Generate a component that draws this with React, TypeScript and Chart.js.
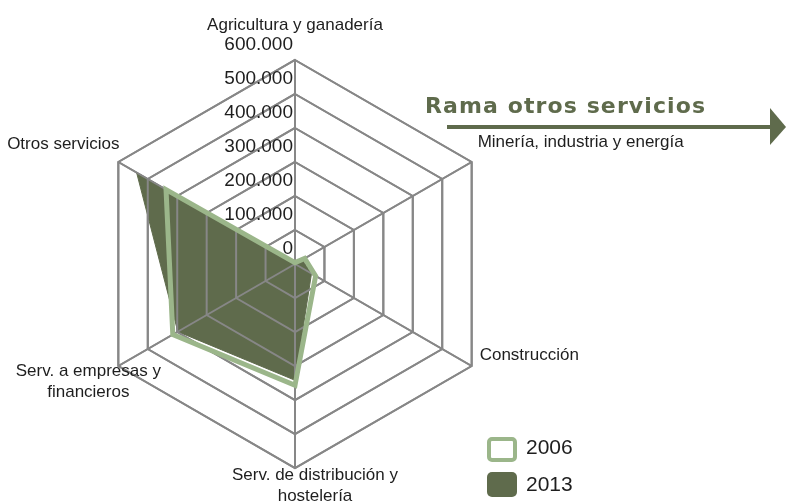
import React, { useEffect, useRef } from "react";
import { Chart, registerables } from "chart.js";

Chart.register(...registerables);

const categories: (string | string[])[] = [
  "Agricultura y ganadería",
  "Minería, industria y energía",
  "Construcción",
  ["Serv. de distribución y", "hostelería"],
  ["Serv. a empresas y", "financieros"],
  "Otros servicios",
];
const seriesNames = ["2006", "2013"];
const values2006 = [4000, 33000, 70000, 357000, 415000, 438000];
const values2013 = [3000, 25000, 56000, 342000, 398000, 538000];
const tickValues = [0, 100000, 200000, 300000, 400000, 500000, 600000];
const tickLabels = ["0", "100.000", "200.000", "300.000", "400.000", "500.000", "600.000"];
const titleText = "Rama otros servicios";

const LIGHT = "#9bb68a";
const DARK = "#5f6b4c";
const GRID = "#878787";
const TEXT = "#1e1e1e";

// label placement relative to the outer vertex of each axis
const labelPlacement = [
  { dx: 0, dy: -35, align: "center" },
  { dx: 6, dy: -20, align: "left" },
  { dx: 8, dy: -11, align: "left" },
  { dx: 20, dy: 7, align: "center" },
  { dx: -30, dy: 5, align: "center" },
  { dx: -55, dy: -18, align: "center" },
];

const overlayPlugin = {
  id: "overlay",
  afterDatasetDraw(chart: any, args: any) {
    // grid over the filled 2013 area, below the 2006 line
    if (args.index === 1) {
      chart.scales.r.drawGrid();
    }
  },
  afterDraw(chart: any) {
    const scale = chart.scales.r;
    const ctx = chart.ctx;
    ctx.save();
    ctx.font = "19px 'Liberation Sans', Arial, sans-serif";
    ctx.fillStyle = TEXT;
    ctx.textAlign = "right";
    ctx.textBaseline = "middle";
    tickValues.forEach((v, i) => {
      const d = scale.getDistanceFromCenterForValue(v);
      ctx.fillText(tickLabels[i], scale.xCenter - 2, scale.yCenter - d - 15);
    });
    ctx.font = "17px 'Liberation Sans', Arial, sans-serif";
    categories.forEach((lab, i) => {
      const p = scale.getPointPosition(i, scale.drawingArea);
      const pl = labelPlacement[i];
      const lines = Array.isArray(lab) ? lab : [lab];
      ctx.textAlign = pl.align;
      lines.forEach((ln, j) => {
        ctx.fillText(ln, p.x + pl.dx, p.y + pl.dy + j * 21);
      });
    });
    ctx.restore();
  },
};

export default function App() {
  const ref = useRef<HTMLCanvasElement>(null);
  useEffect(() => {
    document.body.style.margin = "0";
    document.documentElement.style.overflow = "hidden";
    document.body.style.overflow = "hidden";
    if (!ref.current) return;
    const chart = new Chart(ref.current, {
      type: "radar",
      data: {
        labels: categories as any,
        datasets: [
          {
            label: seriesNames[0],
            data: values2006,
            fill: false,
            borderColor: LIGHT,
            borderWidth: 5,
            pointRadius: 0,
            pointHoverRadius: 0,
          },
          {
            label: seriesNames[1],
            data: values2013,
            fill: true,
            backgroundColor: DARK,
            borderColor: DARK,
            borderWidth: 1,
            pointRadius: 0,
            pointHoverRadius: 0,
          },
        ],
      },
      options: {
        responsive: false,
        animation: false,
        layout: { padding: { left: 91, top: 60, right: 287, bottom: 35 } },
        plugins: {
          legend: { display: false },
          tooltip: { enabled: false },
        },
        scales: {
          r: {
            min: 0,
            max: 600000,
            ticks: { display: false, stepSize: 100000 },
            pointLabels: { display: false },
            grid: { color: GRID, lineWidth: 2 },
            angleLines: { color: GRID, lineWidth: 2 },
          },
        },
      },
      plugins: [overlayPlugin],
    });
    return () => chart.destroy();
  }, []);

  const legendText: React.CSSProperties = {
    position: "absolute",
    left: 526,
    fontFamily: "'Liberation Sans', Arial, sans-serif",
    fontSize: 21,
    color: TEXT,
    lineHeight: "25px",
  };

  return (
    <div style={{ position: "relative", width: 786, height: 503, overflow: "hidden" }}>
      <canvas ref={ref} width={786} height={503} style={{ display: "block" }} />
      <div
        style={{
          position: "absolute",
          left: 425,
          top: 91,
          fontFamily: "'DejaVu Sans', sans-serif",
          fontWeight: "bold",
          fontSize: 22,
          letterSpacing: 1.1,
          color: DARK,
          whiteSpace: "nowrap",
          lineHeight: "30px",
        }}
      >
        {titleText}
      </div>
      <svg
        width={340}
        height={40}
        style={{ position: "absolute", left: 446, top: 107 }}
      >
        <line x1={1} y1={20} x2={326} y2={20} stroke={DARK} strokeWidth={4} />
        <polygon points="324,1 340,20 324,38" fill={DARK} />
      </svg>
      <div
        style={{
          position: "absolute",
          left: 487,
          top: 437,
          width: 22,
          height: 17,
          border: `4px solid ${LIGHT}`,
          borderRadius: 5,
          background: "#fff",
        }}
      />
      <div style={{ ...legendText, top: 434 }}>{seriesNames[0]}</div>
      <div
        style={{
          position: "absolute",
          left: 487,
          top: 472,
          width: 30,
          height: 25,
          borderRadius: 5,
          background: DARK,
        }}
      />
      <div style={{ ...legendText, top: 471 }}>{seriesNames[1]}</div>
    </div>
  );
}
